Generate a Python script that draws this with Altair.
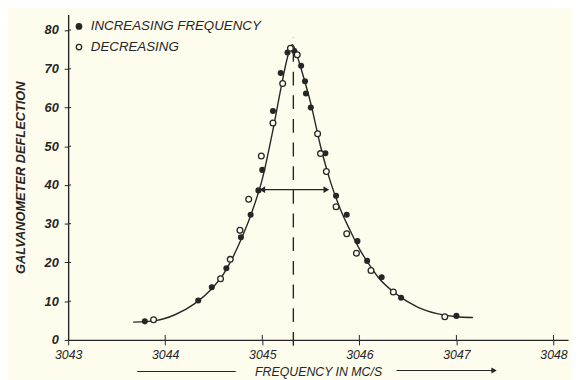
import altair as alt
import pandas as pd

# ---------------- data ----------------
inc_x = [3043.79, 3044.34, 3044.48, 3044.63, 3044.78, 3044.88, 3044.96, 3045.00,
         3045.11, 3045.19, 3045.26, 3045.33, 3045.40, 3045.44, 3045.45, 3045.50,
         3045.65, 3045.76, 3045.87, 3045.98, 3046.08, 3046.23, 3046.43, 3047.00]
inc_y = [4.8, 10.2, 13.6, 18.5, 26.5, 32.3, 38.6, 43.9,
         59.1, 68.9, 74.2, 74.6, 70.8, 66.8, 63.6, 60.0,
         48.2, 37.2, 32.3, 25.5, 20.4, 16.2, 10.9, 6.2]

dec_x = [3043.88, 3044.57, 3044.67, 3044.77, 3044.86, 3044.99, 3045.11, 3045.21,
         3045.29, 3045.36, 3045.57, 3045.60, 3045.66, 3045.76, 3045.87, 3045.97,
         3046.12, 3046.35, 3046.88]
dec_y = [5.2, 15.8, 20.8, 28.3, 36.3, 47.5, 56.0, 66.2,
         75.3, 73.6, 53.2, 48.1, 43.5, 34.4, 27.4, 22.4,
         17.9, 12.4, 6.0]

curve_x = [3043.67, 3043.9, 3044.1, 3044.3, 3044.5, 3044.6, 3044.7, 3044.8, 3044.9,
           3045.0, 3045.1, 3045.2, 3045.25, 3045.28, 3045.31, 3045.34, 3045.37, 3045.4,
           3045.5, 3045.6, 3045.7, 3045.8, 3045.9, 3046.0, 3046.1, 3046.2, 3046.4,
           3046.6, 3046.8, 3047.0, 3047.17]
curve_y = [4.6, 5.0, 6.5, 9.3, 13.8, 17.0, 21.5, 27.0, 33.5,
           41.5, 53.0, 66.0, 72.0, 74.8, 76.2, 74.8, 72.5, 70.0,
           61.0, 50.0, 41.0, 34.0, 28.5, 23.5, 19.5, 16.0, 11.5,
           8.5, 6.8, 6.0, 5.8]

centre_freq = 3045.32
centre_span = [-1.5, 78.0]
halfwidth_x = [3045.0, 3045.66]
halfwidth_y = 38.8

x_ticks = [3043, 3044, 3045, 3046, 3047, 3048]
y_ticks = [0, 10, 20, 30, 40, 50, 60, 70, 80]

legend_labels = ["INCREASING FREQUENCY", "DECREASING"]

# ---------------- styling ----------------
INK = "#262626"
BG = "#fefcec"
FONT = "Liberation Sans"
W, H = 507, 330

xs = alt.Scale(domain=[3043, 3048.15], nice=False, zero=False)
ys = alt.Scale(domain=[0, 84], nice=False, zero=False)

df_curve = pd.DataFrame({"f": curve_x, "d": curve_y})
df_inc = pd.DataFrame({"f": inc_x, "d": inc_y})
df_dec = pd.DataFrame({"f": dec_x, "d": dec_y})

base_x = alt.X("f:Q", scale=xs,
               axis=alt.Axis(values=x_ticks, format="d", title="FREQUENCY IN MC/S",
                             labelFont=FONT, labelFontStyle="italic", labelFontSize=12.5,
                             labelColor=INK, labelPadding=4, tickSize=5,
                             titleFont=FONT, titleFontStyle="italic", titleFontWeight="normal",
                             titleFontSize=12.5, titleColor=INK, titlePadding=5,
                             labelFlush=False, labelOverlap=False))
base_y = alt.Y("d:Q", scale=ys,
               axis=alt.Axis(values=y_ticks, format="d", title="GALVANOMETER DEFLECTION",
                             labelFont=FONT, labelFontStyle="italic", labelFontWeight="bold",
                             labelFontSize=13, labelColor=INK, labelPadding=6, tickSize=4,
                             titleFont=FONT, titleFontStyle="italic", titleFontWeight="bold",
                             titleFontSize=13, titleColor=INK, titlePadding=17,
                             labelFlush=False, labelOverlap=False))

curve = alt.Chart(df_curve).mark_line(color=INK, strokeWidth=1.4, interpolate="monotone").encode(
    x=base_x, y=base_y)

df_centre = pd.DataFrame({"f": [centre_freq], "d": [centre_span[0]], "d2": [centre_span[1]]})
centre = alt.Chart(df_centre).mark_rule(color=INK, strokeWidth=1.4, strokeDash=[14, 10]).encode(
    x="f:Q", y="d:Q", y2="d2:Q")

df_hw = pd.DataFrame({"f": [halfwidth_x[0]], "f2": [halfwidth_x[1]], "d": [halfwidth_y]})
hw_line = alt.Chart(df_hw).mark_rule(color=INK, strokeWidth=1.3).encode(
    x="f:Q", x2="f2:Q", y="d:Q")
df_heads = pd.DataFrame({"f": halfwidth_x, "d": [halfwidth_y, halfwidth_y],
                         "shape": ["triangle-left", "triangle-right"]})
hw_heads = alt.Chart(df_heads).mark_point(filled=True, color=INK, size=45, opacity=1).encode(
    x="f:Q", y="d:Q",
    shape=alt.Shape("shape:N", scale=None, legend=None))

pts_inc = alt.Chart(df_inc).mark_point(filled=True, color=INK, size=38, opacity=1,
                                       shape="circle").encode(x="f:Q", y="d:Q")
pts_dec = alt.Chart(df_dec).mark_point(filled=True, fill=BG, stroke=INK, strokeWidth=1.3,
                                       size=34, opacity=1, shape="circle").encode(x="f:Q", y="d:Q")

# legend (manual, top-left)
leg_sym = alt.Chart(pd.DataFrame({"k": [0, 1]})).transform_calculate(
    yy="datum.k == 0 ? 12 : 33").mark_point(size=30, opacity=1, shape="circle",
                                             strokeWidth=1.3, stroke=INK).encode(
    x=alt.value(11), y=alt.Y("yy:Q", scale=None),
    fill=alt.condition("datum.k == 0", alt.value(INK), alt.value(BG)))
leg_txt = alt.Chart(pd.DataFrame({"label": legend_labels, "k": [0, 1]})).transform_calculate(
    yy="datum.k == 0 ? 12 : 33").mark_text(align="left", baseline="middle", font=FONT,
                                           fontStyle="italic", fontSize=13.5, color=INK).encode(
    x=alt.value(23), y=alt.Y("yy:Q", scale=None), text="label:N")

# decorative lines on either side of the x title
title_l = alt.Chart(pd.DataFrame({"k": [0]})).mark_rule(color=INK, strokeWidth=1.2).encode(
    x=alt.value(70), x2=alt.value(170), y=alt.value(H + 32))
title_r = alt.Chart(pd.DataFrame({"k": [0]})).mark_rule(color=INK, strokeWidth=1.2).encode(
    x=alt.value(333), x2=alt.value(430), y=alt.value(H + 31))
title_head = alt.Chart(pd.DataFrame({"k": [0]})).mark_point(
    shape="triangle-right", filled=True, color=INK, size=40, opacity=1).encode(
    x=alt.value(432), y=alt.value(H + 31))

# inward halves of the crossing ticks
xt_in = alt.Chart(pd.DataFrame({"f": x_ticks[1:]})).mark_rule(color=INK, strokeWidth=1).encode(
    x="f:Q", y=alt.value(H), y2=alt.value(H - 5))
yt_in = alt.Chart(pd.DataFrame({"d": y_ticks[1:]})).mark_rule(color=INK, strokeWidth=1).encode(
    y="d:Q", x=alt.value(0), x2=alt.value(3))

chart = alt.layer(
    curve, centre, hw_line, hw_heads, pts_inc, pts_dec, leg_sym, leg_txt,
    title_l, title_r, title_head, xt_in, yt_in
).properties(
    width=W, height=H,
    autosize=alt.AutoSizeParams(type="none"),
    padding={"left": 61, "top": 4, "right": 4, "bottom": 38},
    background=BG,
).configure_view(stroke=None).configure_axis(
    grid=False, domainColor=INK, domainWidth=1.4, tickColor=INK, tickWidth=1
)

chart.save("out.html", embed_options={"renderer": "svg", "actions": False})
